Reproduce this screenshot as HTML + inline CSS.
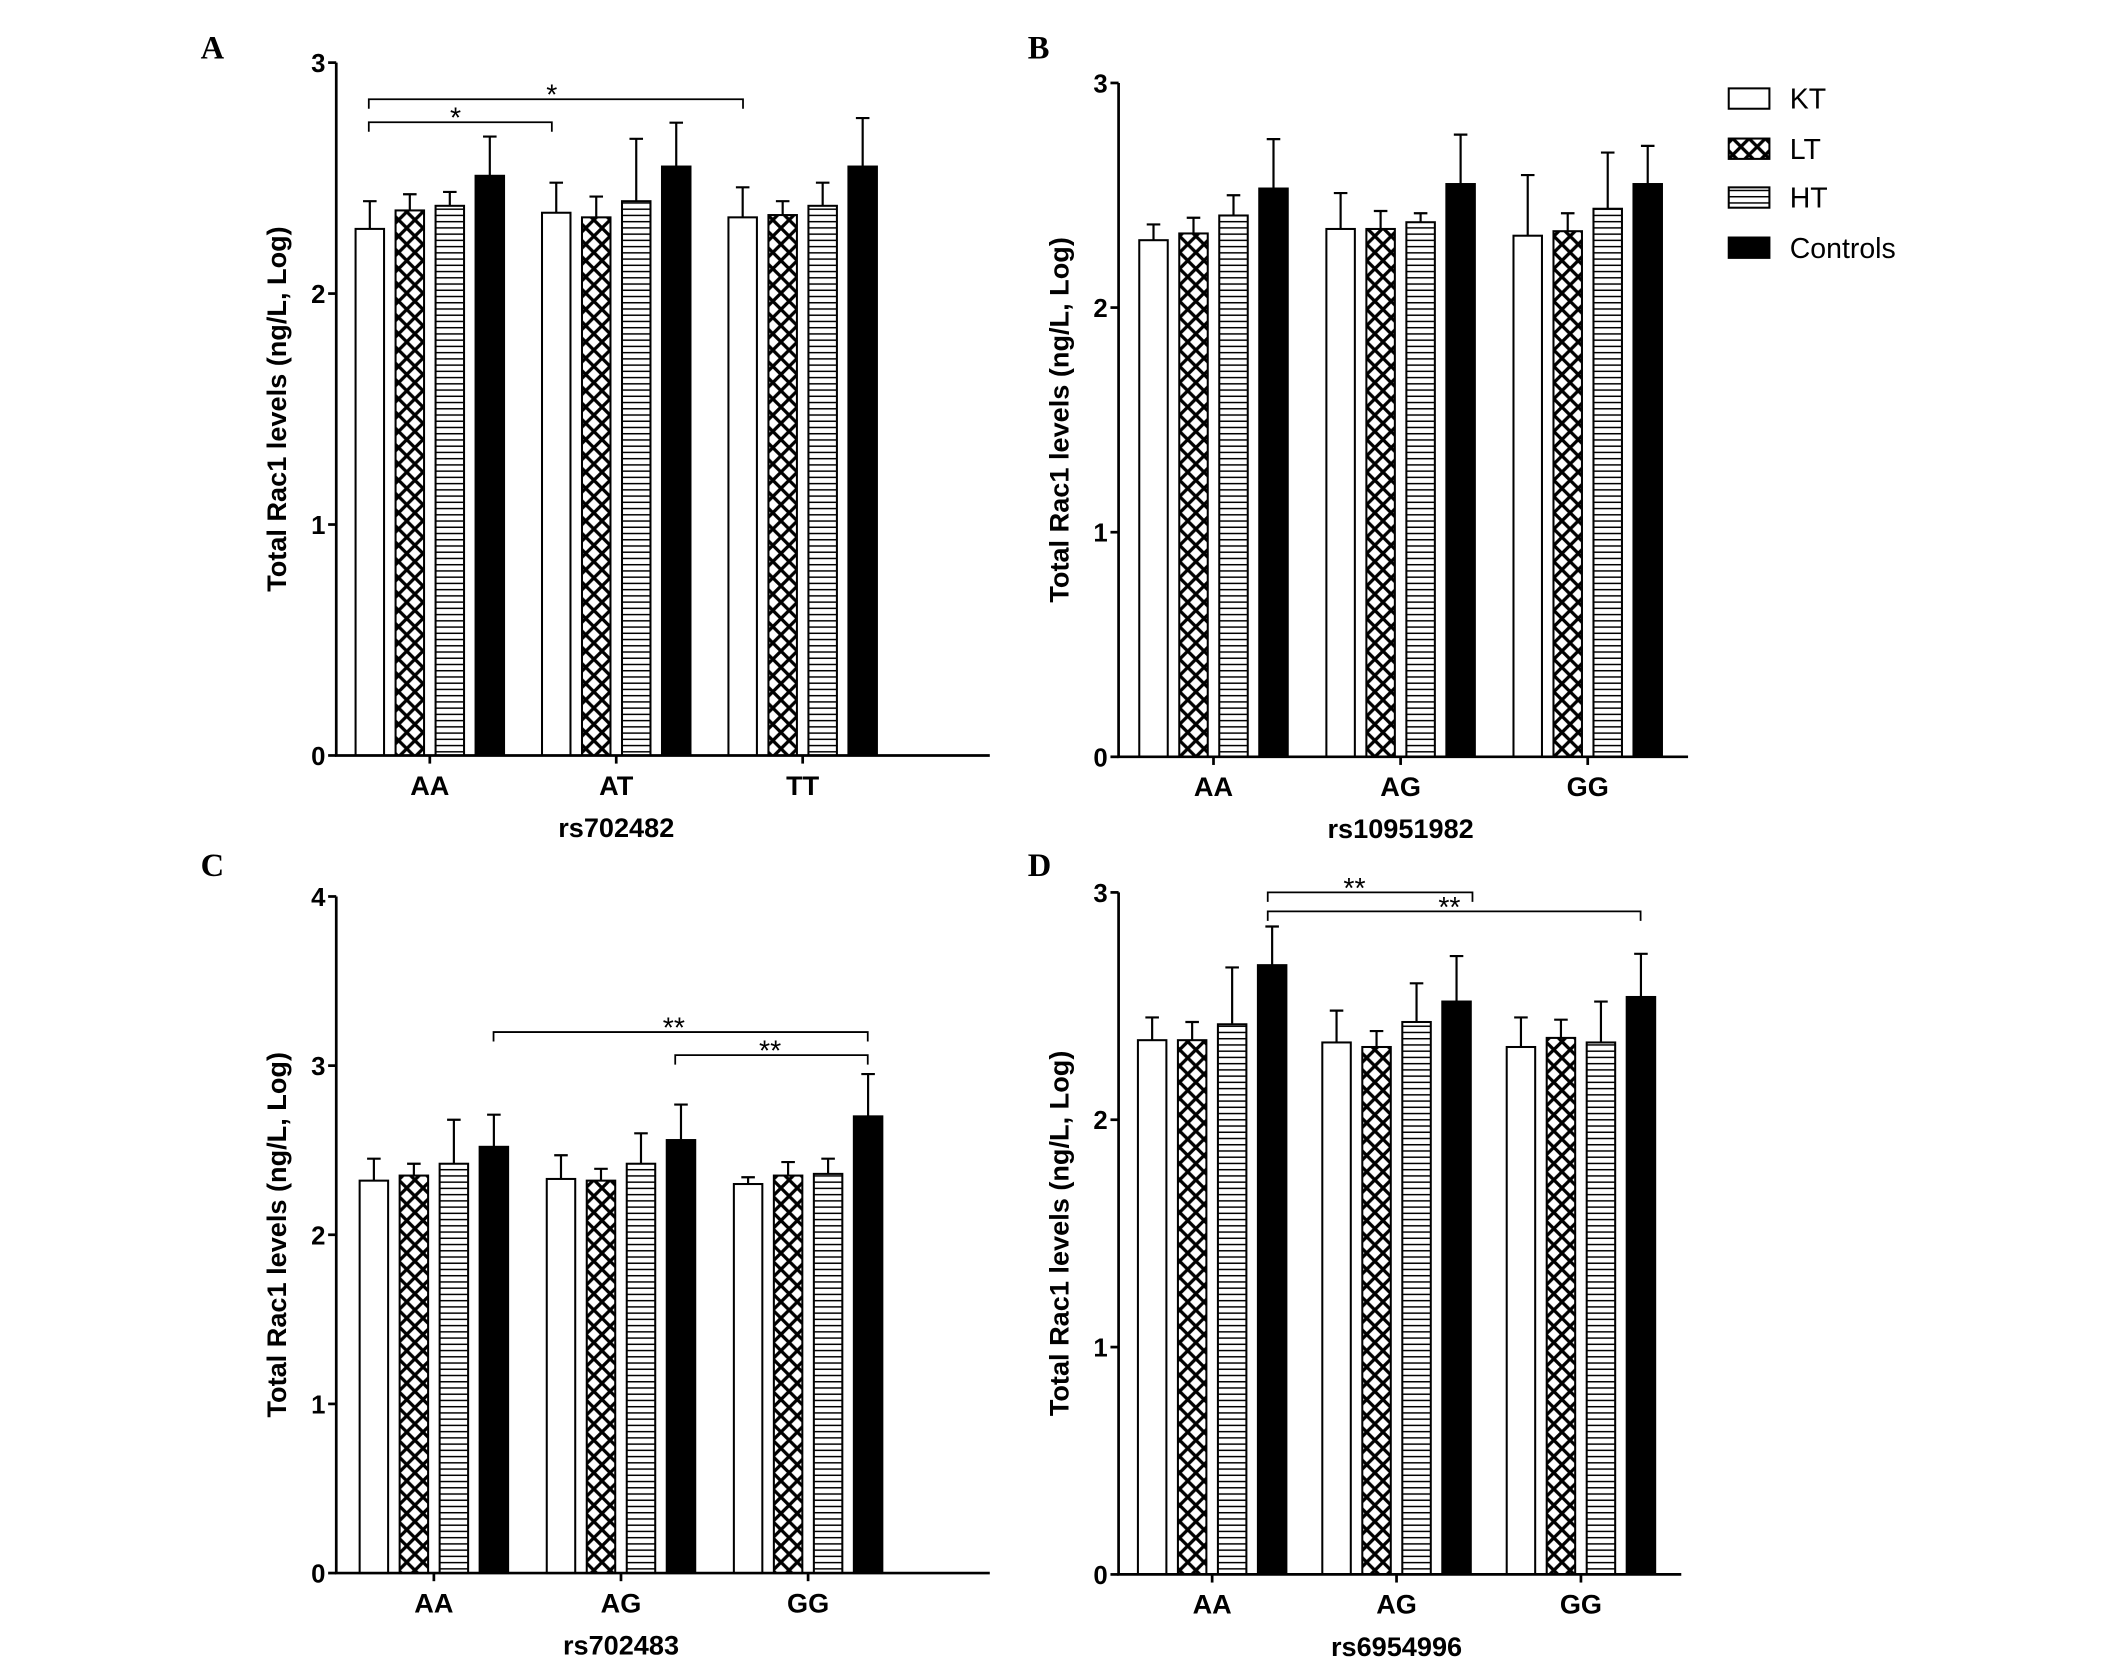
<!DOCTYPE html>
<html><head><meta charset="utf-8"><style>
html,body{margin:0;padding:0;background:#fff;}
svg{display:block;font-family:"Liberation Sans",Arial,sans-serif;}
</style></head><body>
<svg id="fig" width="2126" height="1675" viewBox="0 0 1568 1235" xmlns="http://www.w3.org/2000/svg">
<defs>
<pattern id="cross" patternUnits="userSpaceOnUse" width="12" height="12">
<path d="M0,0 L12,12 M12,0 L0,12" stroke="#000" stroke-width="2.4"/>
</pattern>
<pattern id="hlines" patternUnits="userSpaceOnUse" width="10" height="4.6">
<line x1="0" y1="2.3" x2="10" y2="2.3" stroke="#000" stroke-width="1.1"/>
</pattern>
</defs>
<g id="root"></g>
</svg>
<script>
const seriesNames = ["KT","LT","HT","Controls"];
const catsA = ["AA","AT","TT"];
const meanA = [[2.28,2.36,2.38,2.51],[2.35,2.33,2.40,2.55],[2.33,2.34,2.38,2.55]];
const errA  = [[0.12,0.07,0.06,0.17],[0.13,0.09,0.27,0.19],[0.13,0.06,0.10,0.21]];
const catsB = ["AA","AG","GG"];
const meanB = [[2.30,2.33,2.41,2.53],[2.35,2.35,2.38,2.55],[2.32,2.34,2.44,2.55]];
const errB  = [[0.07,0.07,0.09,0.22],[0.16,0.08,0.04,0.22],[0.27,0.08,0.25,0.17]];
const catsC = ["AA","AG","GG"];
const meanC = [[2.32,2.35,2.42,2.52],[2.33,2.32,2.42,2.56],[2.30,2.35,2.36,2.70]];
const errC  = [[0.13,0.07,0.26,0.19],[0.14,0.07,0.18,0.21],[0.04,0.08,0.09,0.25]];
const catsD = ["AA","AG","GG"];
const meanD = [[2.35,2.35,2.42,2.68],[2.34,2.32,2.43,2.52],[2.32,2.36,2.34,2.54]];
const errD  = [[0.10,0.08,0.25,0.17],[0.14,0.07,0.17,0.20],[0.13,0.08,0.18,0.19]];
const ticks3 = [0,1,2,3];
const ticks4 = [0,1,2,3,4];

const NS="http://www.w3.org/2000/svg";
const root=document.getElementById('root');
function mk(tag,attrs,parent){const e=document.createElementNS(NS,tag);for(const k in attrs)e.setAttribute(k,attrs[k]);(parent||root).appendChild(e);return e;}
const fills=["#fff","url(#cross)","url(#hlines)","#000"];

function panel(p){
  const g=mk('g',{});
  
  
  const y=v=>p.y0-(v/p.ymax)*(p.y0-p.yTop);
  const x=(ci,si)=>p.c0+ci*p.cstep+(si-1.5)*29.5;
  p.mean.forEach((grp,ci)=>grp.forEach((v,si)=>{
    const bx=x(ci,si)-10.5;
    if(si>0&&si<3){mk('rect',{x:bx,y:y(v),width:21,height:p.y0-y(v),fill:'#fff'},g);}
    const r=mk('rect',{x:bx,y:y(v),width:21,height:p.y0-y(v),fill:fills[si],stroke:'#000','stroke-width':1.5},g);
    
    
    const top=y(v+p.err[ci][si]);
    const el=mk('path',{d:`M${x(ci,si)},${y(v)} V${top} M${x(ci,si)-5},${top} H${x(ci,si)+5}`,stroke:'#000','stroke-width':1.6,fill:'none'},g);
    
    
  }));
  const ax=mk('path',{d:`M${p.ax},${p.yTop} V${p.y0} H${p.axEnd}`,stroke:'#000','stroke-width':2,fill:'none'},g);
  
  
  p.ticks.forEach(t=>{
    mk('line',{x1:p.ax-6,x2:p.ax,y1:y(t),y2:y(t),stroke:'#000','stroke-width':2},g);
    const tl=mk('text',{x:p.ax-8,y:y(t)+7,'text-anchor':'end','font-size':19,'font-weight':'bold'},g);
    tl.textContent=t;
    
    
  });
  p.cats.forEach((c,ci)=>{
    const cx=p.c0+ci*p.cstep;
    mk('line',{x1:cx,x2:cx,y1:p.y0,y2:p.y0+6,stroke:'#000','stroke-width':2},g);
    const cl=mk('text',{x:cx,y:p.y0+29,'text-anchor':'middle','font-size':20,'font-weight':'bold'},g);
    cl.textContent=c;
    
    
  });
  const xt=mk('text',{x:p.c0+p.cstep,y:p.y0+60,'text-anchor':'middle','font-size':20,'font-weight':'bold'},g);
  xt.textContent=p.xtitle;
  
  
  const ym=(p.yTop+p.y0)/2;
  const yt=mk('text',{x:0,y:0,transform:`translate(${p.ax-37},${ym}) rotate(-90)`,'text-anchor':'middle','font-size':20,'font-weight':'bold'},g);
  yt.textContent='Total Rac1 levels (ng/L, Log)';
  
  
  const lt=mk('text',{x:p.lx,y:p.ly,'font-size':24,'font-weight':'bold','font-family':'Liberation Serif, serif'},g);
  lt.textContent=p.id;
  
  
  (p.sig||[]).forEach(s=>{
    const b=mk('path',{d:`M${s[0]},${s[2]+7} V${s[2]} H${s[1]} V${s[2]+7}`,stroke:'#000','stroke-width':1.3,fill:'none'},g);
    
    
    const st=mk('text',{x:s[3],y:s[2]+4,'text-anchor':'middle','font-size':21},g);
    st.textContent=s[4];
    
    
  });
}
panel({id:'A',cats:catsA,mean:meanA,err:errA,ax:248,axEnd:730,yTop:46,y0:557,ymax:3,ticks:ticks3,c0:317,cstep:137.5,xtitle:'rs702482',lx:148,ly:43,
  sig:[[272,407,90,336,'*'],[272,548,73,407,'*']]});
panel({id:'B',cats:catsB,mean:meanB,err:errB,ax:825,axEnd:1245,yTop:61,y0:558,ymax:3,ticks:ticks3,c0:895,cstep:138,xtitle:'rs10951982',lx:758,ly:43});
panel({id:'C',cats:catsC,mean:meanC,err:errC,ax:248,axEnd:730,yTop:661,y0:1160,ymax:4,ticks:ticks4,c0:320,cstep:138,xtitle:'rs702483',lx:148,ly:646,
  sig:[[364,640,761,497,'**'],[498,640,778,568,'**']]});
panel({id:'D',cats:catsD,mean:meanD,err:errD,ax:825,axEnd:1240,yTop:658,y0:1161,ymax:3,ticks:ticks3,c0:894,cstep:136,xtitle:'rs6954996',lx:758,ly:646,
  sig:[[935,1086,658,999,'**'],[935,1210,672,1069,'**']]});
const lg=mk('g',{});


const legY=[65,102,138,175];
seriesNames.forEach((n,i)=>{
  if(i>0&&i<3) mk('rect',{x:1275,y:legY[i],width:30,height:15,fill:'#fff'},lg);
  const r=mk('rect',{x:1275,y:legY[i],width:30,height:15,fill:fills[i],stroke:'#000','stroke-width':1.5},lg);
  
  
  const t=mk('text',{x:1320,y:legY[i]+15,'font-size':21},lg);
  t.textContent=n;
  
  
});
</script>
</body></html>
